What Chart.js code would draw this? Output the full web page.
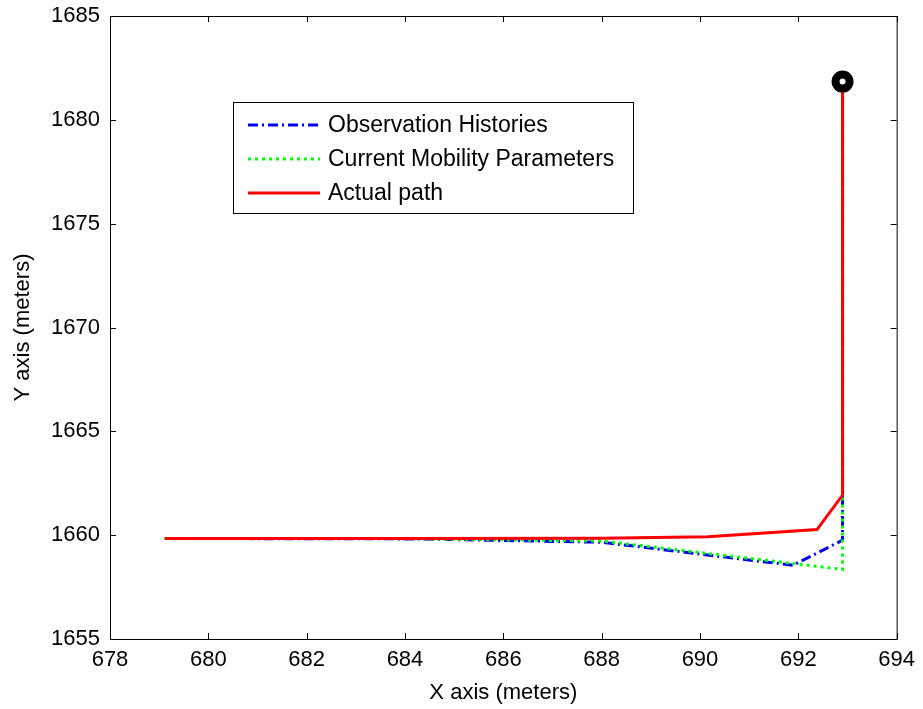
<!DOCTYPE html>
<html lang="en">
<head>
    <meta charset="UTF-8">
    <title>Mobility path</title>
    <script src="https://cdn.jsdelivr.net/npm/chart.js"></script>
    <style>
        html, body { margin: 0; padding: 0; background: #fff; }
        #wrap { width: 923px; height: 709px; }
    </style>
</head>
<body>
    <div id="wrap"><canvas id="pathChart" width="923" height="709"></canvas></div>

    <script>
        // values (meters)
        const xTicks = [678, 680, 682, 684, 686, 688, 690, 692, 694];
        const yTicks = [1655, 1660, 1665, 1670, 1675, 1680, 1685];

        const obsX = [679.1, 684.2, 688.0, 691.89, 692.9, 692.9];
        const obsY = [1659.84, 1659.82, 1659.66, 1658.55, 1659.76, 1681.84];

        const mobX = [679.1, 683.6, 688.0, 691.88, 692.9, 692.9];
        const mobY = [1659.84, 1659.84, 1659.72, 1658.64, 1658.35, 1681.84];

        const actX = [679.12, 684.0, 688.0, 690.16, 692.38, 692.9, 692.9];
        const actY = [1659.84, 1659.84, 1659.85, 1659.92, 1660.27, 1661.93, 1681.84];

        const startX = [692.9];
        const startY = [1681.84];

        const labels = ['Observation Histories', 'Current Mobility Parameters', 'Actual path'];

        function pts(xs, ys) {
            return xs.map((x, i) => ({ x: x, y: ys[i] }));
        }

        const FONT = 'Arial, "Liberation Sans", sans-serif';

        // MATLAB style box, inward ticks and legend
        const matlabBox = {
            id: 'matlabBox',
            afterDraw(chart) {
                const ctx = chart.ctx;
                const a = chart.chartArea;
                const xs = chart.scales.x, ys = chart.scales.y;
                ctx.save();
                ctx.strokeStyle = '#000';
                ctx.lineWidth = 1;
                ctx.strokeRect(a.left + 0.5, a.top + 0.5, a.right - a.left, a.bottom - a.top);
                ctx.beginPath();
                xTicks.forEach(v => {
                    const p = Math.round(xs.getPixelForValue(v)) + 0.5;
                    ctx.moveTo(p, a.bottom); ctx.lineTo(p, a.bottom - 6);
                    ctx.moveTo(p, a.top); ctx.lineTo(p, a.top + 6);
                });
                yTicks.forEach(v => {
                    const p = Math.round(ys.getPixelForValue(v)) + 0.5;
                    ctx.moveTo(a.left, p); ctx.lineTo(a.left + 6, p);
                    ctx.moveTo(a.right, p); ctx.lineTo(a.right - 6, p);
                });
                ctx.stroke();

                // legend
                const bx = 233, by = 102, bw = 400, bh = 111;
                ctx.fillStyle = '#fff';
                ctx.fillRect(bx, by, bw, bh);
                ctx.strokeRect(bx + 0.5, by + 0.5, bw, bh);
                ctx.font = '23px ' + FONT;
                ctx.textBaseline = 'middle';
                ctx.textAlign = 'left';
                for (let i = 0; i < 3; i++) {
                    const ds = chart.data.datasets[i];
                    const ry = by + 23 + i * 34;
                    ctx.beginPath();
                    ctx.strokeStyle = ds.borderColor;
                    ctx.lineWidth = ds.borderWidth;
                    ctx.setLineDash(ds.borderDash || []);
                    ctx.moveTo(248, ry);
                    ctx.lineTo(320, ry);
                    ctx.stroke();
                    ctx.setLineDash([]);
                    ctx.fillStyle = '#000';
                    ctx.fillText(ds.label, 328, ry + 1);
                }
                ctx.restore();
            }
        };

        const ctx = document.getElementById('pathChart').getContext('2d');
        new Chart(ctx, {
            type: 'scatter',
            data: {
                datasets: [
                    {
                        label: labels[0],
                        data: pts(obsX, obsY),
                        showLine: true,
                        borderColor: '#0000ff',
                        borderWidth: 3,
                        borderDash: [10, 4, 2, 4],
                        pointRadius: 0,
                        order: 3
                    },
                    {
                        label: labels[1],
                        data: pts(mobX, mobY),
                        showLine: true,
                        borderColor: '#00ff00',
                        borderWidth: 3,
                        borderDash: [3, 4],
                        pointRadius: 0,
                        order: 2
                    },
                    {
                        label: labels[2],
                        data: pts(actX, actY),
                        showLine: true,
                        borderColor: '#ff0000',
                        borderWidth: 3,
                        pointRadius: 0,
                        order: 1
                    },
                    {
                        label: 'start',
                        data: pts(startX, startY),
                        pointRadius: 7,
                        pointBorderWidth: 8,
                        pointBorderColor: '#000',
                        pointBackgroundColor: '#fff',
                        order: 0
                    }
                ]
            },
            options: {
                responsive: false,
                animation: false,
                layout: { padding: { top: 16, right: 26, left: 0, bottom: 0 } },
                plugins: {
                    legend: { display: false },
                    tooltip: { enabled: false }
                },
                scales: {
                    x: {
                        type: 'linear',
                        min: 678,
                        max: 694,
                        afterFit: s => { s.height = 70; },
                        afterBuildTicks: s => { s.ticks = xTicks.map(v => ({ value: v })); },
                        grid: { display: false, drawTicks: false },
                        border: { display: false },
                        ticks: {
                            padding: 8,
                            color: '#000',
                            font: { family: FONT, size: 22 },
                            callback: v => String(v)
                        },
                        title: {
                            display: true,
                            text: 'X axis (meters)',
                            color: '#000',
                            font: { family: FONT, size: 22 },
                            padding: { top: 0, bottom: 3 }
                        }
                    },
                    y: {
                        type: 'linear',
                        min: 1655,
                        max: 1685,
                        afterFit: s => { s.width = 110; s.paddingTop = 0; s.paddingBottom = 0; },
                        afterBuildTicks: s => { s.ticks = yTicks.map(v => ({ value: v })); },
                        grid: { display: false, drawTicks: false },
                        border: { display: false },
                        ticks: {
                            padding: 10,
                            color: '#000',
                            font: { family: FONT, size: 22 },
                            callback: v => String(v)
                        },
                        title: {
                            display: true,
                            text: 'Y axis (meters)',
                            color: '#000',
                            font: { family: FONT, size: 22 },
                            padding: { top: 10, bottom: 8 }
                        }
                    }
                }
            },
            plugins: [matlabBox]
        });
    </script>
</body>
</html>
